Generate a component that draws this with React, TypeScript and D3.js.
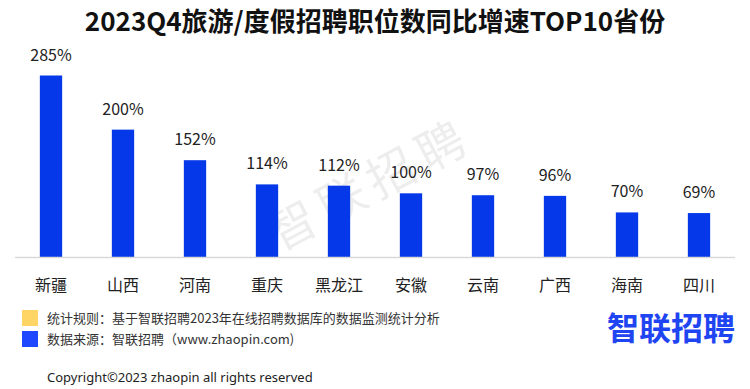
import React from "react";
import { scaleBand, scaleLinear } from "d3";

// 省份 + 同比增速(%)
const provinces = ["新疆", "山西", "河南", "重庆", "黑龙江", "安徽", "云南", "广西", "海南", "四川"];
const growth = [285, 200, 152, 114, 112, 100, 97, 96, 70, 69];

const title = "2023Q4旅游/度假招聘职位数同比增速TOP10省份";
const notes = [
  "统计规则：基于智联招聘2023年在线招聘数据库的数据监测统计分析",
  "数据来源：智联招聘（www.zhaopin.com)",
];
const noteColors = ["#ffd666", "#1f47ff"];

const FONT = "'Noto Sans CJK SC', 'Noto Sans', sans-serif";

const App = () => {
  const width = 750;
  const height = 389;
  const baseY = 257;

  // x, y 스케일
  const x = scaleBand<string>()
    .domain(provinces)
    .range([15, 735])
    .paddingInner(0.69)
    .paddingOuter(0.345);

  const y = scaleLinear().domain([0, 285]).range([baseY, 75.5]);

  return (
    <svg
      width={width}
      height={height}
      style={{ position: "absolute", left: 0, top: 0, background: "#fff" }}
      fontFamily={FONT}
    >
      <defs>
        <linearGradient id="rule" x1="0" x2="1" y1="0" y2="0">
          <stop offset="0" stopColor="#555" />
          <stop offset="1" stopColor="#bbb" />
        </linearGradient>
      </defs>
      <rect width={width} height={height} fill="#fff" />

      {/* watermark */}
      <text
        transform="translate(372,188) rotate(-28)"
        textAnchor="middle"
        dominantBaseline="middle"
        fontSize={48}
        letterSpacing={8}
        fill="#000"
        fillOpacity={0.07}
      >
        智联招聘
      </text>

      <text
        x={375}
        y={31}
        textAnchor="middle"
        fontSize={26}
        fontWeight="bold"
        fill="#111"
      >
        {title}
      </text>

      {/* bars */}
      {provinces.map((p, i) => (
        <g key={p}>
          <rect
            x={x(p)}
            y={y(growth[i])}
            width={x.bandwidth()}
            height={baseY - y(growth[i])}
            fill="#0538e8"
          />
          <text
            x={(x(p) || 0) + x.bandwidth() / 2}
            y={y(growth[i]) - 15}
            textAnchor="middle"
            fontSize={16}
            fill="#222"
          >
            {growth[i]}%
          </text>
          <text
            x={(x(p) || 0) + x.bandwidth() / 2}
            y={291}
            textAnchor="middle"
            fontSize={16}
            fill="#222"
          >
            {p}
          </text>
        </g>
      ))}

      <line x1={15} x2={735} y1={baseY + 0.5} y2={baseY + 0.5} stroke="#d9d9d9" strokeWidth={1.5} />

      {/* notes */}
      {notes.map((n, i) => (
        <g key={n}>
          <rect x={22} y={310 + i * 21} width={16} height={16} fill={noteColors[i]} />
          <text x={47} y={323 + i * 21} fontSize={13} fill="#333">
            {n}
          </text>
        </g>
      ))}

      <text
        x={735}
        y={340}
        textAnchor="end"
        fontSize={32}
        fontWeight="bold"
        fill="#1f45f2"
      >
        智联招聘
      </text>

      <line x1={15} x2={740} y1={359.5} y2={359.5} stroke="url(#rule)" strokeWidth={1} />

      <text x={47} y={382} fontSize={13} fill="#222" fontFamily="'Noto Sans', sans-serif">
        Copyright©2023 zhaopin all rights reserved
      </text>
    </svg>
  );
};

export default App;
